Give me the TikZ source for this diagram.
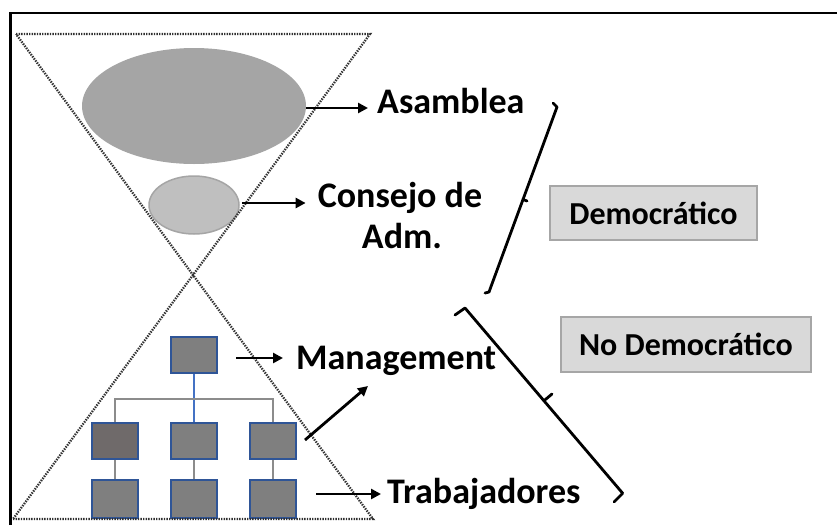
\documentclass[tikz,border=0pt]{standalone}
\usepackage{fontspec}
\setmainfont{Carlito}
\usetikzlibrary{shapes.geometric,arrows.meta}
\definecolor{ellA}{HTML}{A5A5A5}
\definecolor{ellB}{HTML}{BFBFBF}
\definecolor{boxF}{HTML}{7F7F7F}
\definecolor{boxF2}{HTML}{6F6A6A}
\definecolor{boxE}{HTML}{2F5597}
\definecolor{linkB}{HTML}{4472C4}
\definecolor{linkG}{HTML}{8C8C8C}
\definecolor{labF}{HTML}{D9D9D9}
\definecolor{labE}{HTML}{A6A6A6}
\definecolor{dotC}{HTML}{303030}
\tikzset{
  arr/.style={line width=2.8pt,-{Triangle[length=10pt,width=10pt]}},
  orgbox/.style={draw=boxE,fill=boxF,line width=2pt,minimum width=46pt,minimum height=36pt,inner sep=0pt},
  link/.style={draw=linkG,line width=1.2pt},
  bigtxt/.style={font=\bfseries\fontsize{36}{41}\selectfont,inner sep=0pt},
  labbox/.style={draw=labE,fill=labF,line width=2pt,font=\bfseries\fontsize{32}{36}\selectfont,inner sep=0pt},
  dotline/.style={draw=dotC,line width=2.3pt,dash pattern=on 1.4pt off 1.2pt},
  bracket/.style={line width=2.8pt,line cap=round,line join=round}
}
\begin{document}
\begin{tikzpicture}[x=1pt,y=-1pt]
\useasboundingbox (0,0) rectangle (837,525);
% frame
\draw[line width=2.5pt] (10.5,525) -- (10.5,13) -- (837,13);
% ellipses
\node[ellipse,fill=ellA,minimum width=224pt,minimum height=116pt,inner sep=0pt] (asam) at (194,106) {};
\node[ellipse,fill=ellB,draw=ellA,line width=1.5pt,minimum width=90pt,minimum height=58pt,inner sep=0pt] (cons) at (194,205) {};
% org boxes
\node[orgbox] (m0) at (194,355) {};
\node[orgbox,fill=boxF2] (m1) at (115,441) {};
\node[orgbox] (m2) at (194,441) {};
\node[orgbox] (m3) at (273,441) {};
\node[orgbox,minimum height=38pt] (b1) at (115,499) {};
\node[orgbox,minimum height=38pt] (b2) at (194,499) {};
\node[orgbox,minimum height=38pt] (b3) at (273,499) {};
\draw[draw=linkB,line width=1.2pt] (m0.south) -- (m2.north);
\draw[link] (m1.north) -- ++(0,-23) -| (m3.north);
\draw[link] (m1.south) -- (b1.north);
\draw[link] (m2.south) -- (b2.north);
\draw[link] (m3.south) -- (b3.north);
% hourglass
\coordinate (tl) at (16,34);
\coordinate (tr) at (370,34);
\coordinate (mid) at (193,275);
\coordinate (bl) at (13,519);
\coordinate (br) at (373,519);
\draw[dotline] (tl) -- (tr) -- (mid) -- cycle;
\draw[dotline] (bl) -- (br) -- (mid) -- cycle;
% texts
\node[bigtxt,anchor=base west] (asamT) at (377,113) {Asamblea};
\node[bigtxt,anchor=base] (consT) at (400,207) {Consejo de};
\node[bigtxt,anchor=base] (consT2) at (402,248) {Adm.};
\node[bigtxt,anchor=base west] (manT) at (296,369) {Management};
\node[bigtxt,anchor=base west] (traT) at (387,503) {Trabajadores};
% arrows
\draw[arr] (asam.east) ++(0,2) -- ([xshift=-9pt]asamT.west |- 0,108);
\draw[arr] ([xshift=2pt,yshift=2pt]cons.east) -- ([xshift=-12pt]consT.west |- 0,203);
\draw[arr,shorten <=18pt] (m0.east |- 0,358) -- ([xshift=-13pt]manT.west |- 0,358);
\coordinate (diagS) at (305,440);
\coordinate (diagE) at (368,386);
\draw[arr] (diagS) -- (diagE);
\coordinate (traS) at (316,494);
\draw[arr] (traS) -- ([xshift=-6pt]traT.west |- traS);
% label boxes
\node[labbox,minimum width=207pt,minimum height=54pt] (dem) at (653.5,213) {Democrático};
\node[labbox,minimum width=250pt,minimum height=55pt] (nodem) at (686,344.5) {No Democrático};
% brackets
\draw[bracket] (553,103) -- (557,107) -- (489,292) -- (485,293);
\draw[bracket] (523,199.5) -- (527,201);
\draw[bracket] (455,315) -- (465,308) -- (622.7,493.3) -- (614,502);
\draw[bracket] (544,400.7) -- (552,394);
\end{tikzpicture}
\end{document}
